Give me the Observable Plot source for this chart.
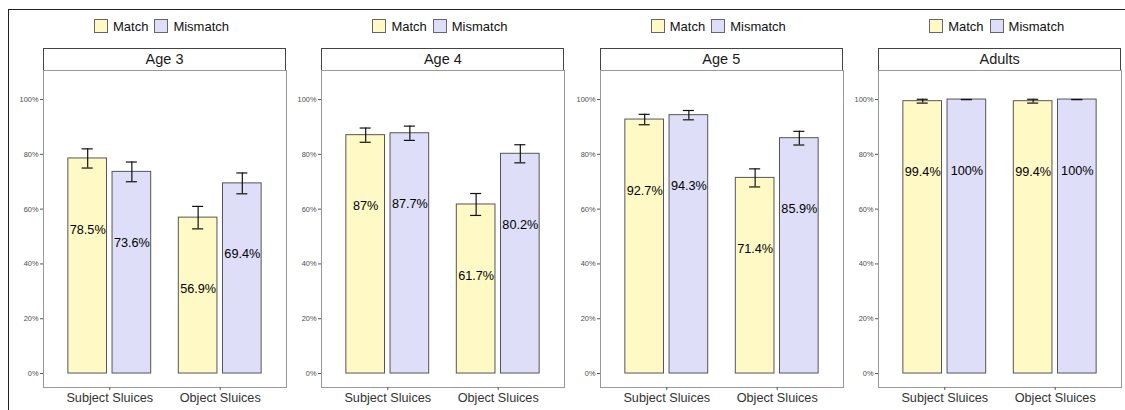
<!DOCTYPE html>
<html>
<head>
<meta charset="utf-8">
<script src="https://cdn.jsdelivr.net/npm/d3@7"></script>
<script src="https://cdn.jsdelivr.net/npm/@observablehq/plot@0.6"></script>
<style>
  html, body { margin: 0; padding: 0; background: white; }
  body { width: 1125px; height: 410px; position: relative; overflow: hidden; font-family: "Liberation Sans", Arial, sans-serif; }
  #frame { position: absolute; left: 8px; top: 9px; right: -5px; bottom: -5px; border-left: 1.5px solid #222; border-top: 1.5px solid #222; }
  .legend { position: absolute; top: 19px; height: 14px; display: flex; justify-content: center; align-items: center; font-size: 13px; color: #111; }
  .key { width: 12px; height: 12px; border: 1px solid #666; margin-right: 5px; }
  .lab { margin-right: 6px; }
  .strip { position: absolute; top: 48px; height: 21px; border: 1px solid #444; box-sizing: content-box; text-align: center; font-size: 14.5px; line-height: 21px; color: #1a1a1a; background: white; }
  .panel { position: absolute; top: 70px; }
</style>
</head>
<body>
<div id="frame"></div>
<div id="root"></div>
<script>
// ---- data ----
const ages = ["Age 3", "Age 4", "Age 5", "Adults"];
const categories = ["Subject Sluices", "Object Sluices"];
const conditions = ["Match", "Mismatch"];
const matchSubject = [78.5, 87, 92.7, 99.4];
const mismatchSubject = [73.6, 87.7, 94.3, 100];
const matchObject = [56.9, 61.7, 71.4, 99.4];
const mismatchObject = [69.4, 80.2, 85.9, 100];
const matchSubjectErr = [3.5, 2.6, 1.9, 0.7];
const mismatchSubjectErr = [3.6, 2.6, 1.7, 0];
const matchObjectErr = [4.1, 4.0, 3.3, 0.7];
const mismatchObjectErr = [3.8, 3.3, 2.5, 0];
const yTicks = [0, 20, 40, 60, 80, 100];

const colors = {Match: "#FFF9C6", Mismatch: "#DEDEF8"};

// ---- layout ----
const step = 278.4, plotLeft0 = 43, plotW = 243, mL = 35, mR = 3;
const svgH = 340, mB = 23;

const root = document.getElementById("root");

ages.forEach((age, i) => {
  const rows = [
    {cat: 0, cond: "Match", v: matchSubject[i], e: matchSubjectErr[i]},
    {cat: 0, cond: "Mismatch", v: mismatchSubject[i], e: mismatchSubjectErr[i]},
    {cat: 1, cond: "Match", v: matchObject[i], e: matchObjectErr[i]},
    {cat: 1, cond: "Mismatch", v: mismatchObject[i], e: mismatchObjectErr[i]}
  ].map(d => {
    const c = d.cat + 1 + (d.cond === "Match" ? -0.2 : 0.2);
    return {...d, c, x1: c - 0.175, x2: c + 0.175, lo: d.v - d.e, hi: d.v + d.e, label: `${d.v}%`};
  });

  const L = plotLeft0 + step * i;

  // legend
  const leg = document.createElement("div");
  leg.className = "legend";
  leg.style.left = L + "px";
  leg.style.width = plotW + "px";
  conditions.forEach(k => {
    const key = document.createElement("div");
    key.className = "key";
    key.style.background = colors[k];
    const t = document.createElement("span");
    t.className = "lab";
    t.textContent = k;
    leg.appendChild(key); leg.appendChild(t);
  });
  root.appendChild(leg);

  // strip
  const strip = document.createElement("div");
  strip.className = "strip";
  strip.style.left = L + "px";
  strip.style.width = (plotW - 2) + "px";
  strip.textContent = age;
  root.appendChild(strip);

  const chart = Plot.plot({
    width: mL + plotW + mR,
    height: svgH,
    marginLeft: mL, marginRight: mR, marginTop: 0, marginBottom: mB,
    style: {fontFamily: "'Liberation Sans', Arial, sans-serif", background: "transparent", overflow: "visible"},
    x: {domain: [0.4, 2.6]},
    y: {domain: [-5.1, 110.6]},
    marks: [
      Plot.rect(rows, {x1: "x1", x2: "x2", y1: 0, y2: "v", fill: d => colors[d.cond], stroke: "#555", strokeWidth: 1}),
      Plot.ruleX(rows, {x: "c", y1: "lo", y2: "hi", stroke: "#111", strokeWidth: 1.2}),
      Plot.ruleY(rows, {y: "lo", x1: d => d.c - 0.05, x2: d => d.c + 0.05, stroke: "#111", strokeWidth: 1.2}),
      Plot.ruleY(rows, {y: "hi", x1: d => d.c - 0.05, x2: d => d.c + 0.05, stroke: "#111", strokeWidth: 1.2}),
      Plot.text(rows, {x: "c", y: "v", text: "label", dy: 71, lineAnchor: "middle", fontSize: 12.7, fill: "#000"}),
      Plot.frame({stroke: "#999", strokeWidth: 1}),
      Plot.axisY({ticks: yTicks, tickFormat: d => d + "%", tickSize: 3, tickPadding: 2, fontSize: 7.4, stroke: "#555", fill: "#4d4d4d", label: null}),
      Plot.axisX({ticks: [1, 2], tickFormat: d => categories[d - 1], tickSize: 3, tickPadding: 2, fontSize: 12.7, stroke: "#555", fill: "#333", label: null})
    ]
  });
  chart.classList.add("panel");
  chart.style.left = (L - mL) + "px";
  chart.style.position = "absolute";
  chart.style.top = "70px";
  root.appendChild(chart);
});
</script>
</body>
</html>
